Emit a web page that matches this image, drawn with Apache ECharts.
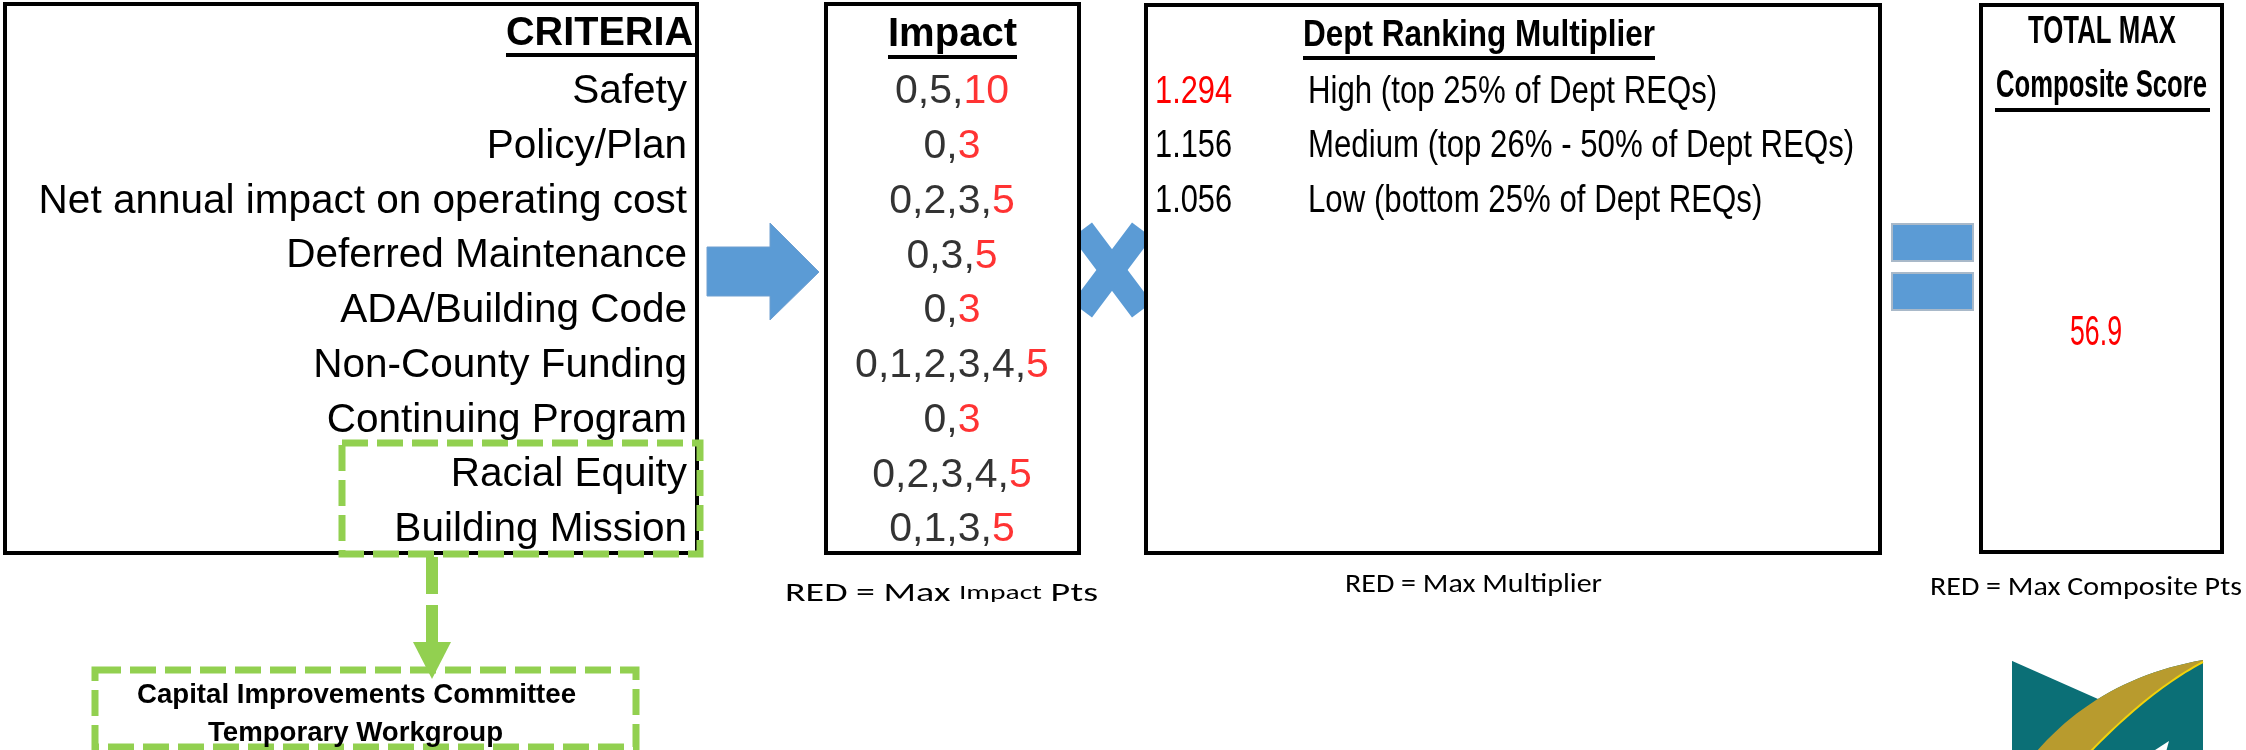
<!DOCTYPE html>
<html>
<head>
<meta charset="utf-8">
<title>Capital Improvement Scoring</title>
<script src="https://cdn.jsdelivr.net/npm/echarts@6/dist/echarts.min.js"></script>
<style>
  html, body { margin: 0; padding: 0; background: #fff; }
  #main { width: 2246px; height: 750px; }
</style>
</head>
<body>
<div id="main"></div>
<script>
// ========== Data ==========
const criteria = ['Safety', 'Policy/Plan', 'Net annual impact on operating cost', 'Deferred Maintenance',
    'ADA/Building Code', 'Non-County Funding', 'Continuing Program', 'Racial Equity', 'Building Mission'];
// possible impact points per criterion (the max one is shown in red)
const impactPoints = [[0, 5, 10], [0, 3], [0, 2, 3, 5], [0, 3, 5], [0, 3], [0, 1, 2, 3, 4, 5], [0, 3], [0, 2, 3, 4, 5], [0, 1, 3, 5]];
const multipliers = [1.294, 1.156, 1.056];
const rankLevels = ['High (top 25% of Dept REQs)', 'Medium (top 26% - 50% of Dept REQs)', 'Low (bottom 25% of Dept REQs)'];
const totalMaxScore = 56.9;
const workgroupLines = ['Capital Improvements Committee', 'Temporary Workgroup'];

// ========== Layout helpers ==========
const ARIAL = "'Liberation Sans', Arial, sans-serif";
const CALIBRI = "Carlito, Calibri, Lato, sans-serif";
const RED = '#ff0000';
const BLUE = '#5b9bd5';
const GREEN = '#92d050';

const measureCtx = document.createElement('canvas').getContext('2d');
// squeeze a text horizontally so it covers the width seen in the sheet
function fitScale(str, font, width) {
    measureCtx.font = font;
    return width / measureCtx.measureText(str).width;
}
function textEl(str, x, y, size, width, opts) {
    opts = opts || {};
    const weight = opts.bold ? 'bold' : 'normal';
    const family = opts.family || ARIAL;
    let sx = opts.scale || 1;
    if (width) sx = fitScale(str, weight + ' ' + size + 'px ' + family, width);
    return {
        type: 'text', x: x, y: y, scaleX: sx, originX: 0, originY: 0, silent: true,
        style: {
            text: str, x: 0, y: 0, fontSize: size, fontWeight: weight, fontFamily: family,
            fill: opts.color || '#000', textAlign: opts.align || 'left', textVerticalAlign: 'middle'
        }
    };
}
function box(x, y, w, h) {
    return { type: 'rect', shape: { x: x, y: y, width: w, height: h }, silent: true,
        style: { fill: '#fff', stroke: '#000', lineWidth: 4 } };
}
function line(x1, y1, x2, y2, color, width, dash) {
    return { type: 'line', shape: { x1: x1, y1: y1, x2: x2, y2: y2 }, silent: true,
        style: { stroke: color, lineWidth: width, lineDash: dash || null } };
}
function quad(p0, c, p2, n) {
    const pts = [];
    for (let i = 0; i <= n; i++) {
        const t = i / n, a = (1 - t) * (1 - t), b = 2 * t * (1 - t), d = t * t;
        pts.push([a * p0[0] + b * c[0] + d * p2[0], a * p0[1] + b * c[1] + d * p2[1]]);
    }
    return pts;
}

// ========== Decorations ==========
const graphics = [];
// multiply sign sits behind the boxes so its arms are cut by their edges
graphics.push(line(1082, 230, 1142, 310, BLUE, 25));
graphics.push(line(1142, 230, 1082, 310, BLUE, 25));

graphics.push(box(5, 4, 692, 549));
graphics.push(box(826, 4, 253, 549));
graphics.push(box(1146, 5, 734, 548));
graphics.push(box(1981, 5, 241, 547));

// column headers
graphics.push(textEl('CRITERIA', 506, 34, 40, 187, { bold: true }));
graphics.push(line(506, 55, 697, 55, '#000', 4));
graphics.push(textEl('Impact', 888, 35, 40, 129, { bold: true }));
graphics.push(line(888, 57, 1017, 57, '#000', 4));
graphics.push(textEl('Dept Ranking Multiplier', 1303, 36, 37, 352, { bold: true }));
graphics.push(line(1303, 58, 1655, 58, '#000', 4));
graphics.push(textEl('TOTAL MAX', 2028, 33, 38, 148, { bold: true }));
graphics.push(textEl('Composite Score', 1996, 86, 39, 211, { bold: true }));
graphics.push(line(1995, 110, 2210, 110, '#000', 4));
graphics.push(textEl(String(totalMaxScore), 2070, 333, 42, 52, { color: RED }));

// block arrow and equals sign
graphics.push({ type: 'polygon', silent: true,
    shape: { points: [[707, 247], [770, 247], [770, 223], [819, 272], [770, 320], [770, 296], [707, 296]] },
    style: { fill: BLUE, stroke: '#6f9fd0', lineWidth: 1 } });
graphics.push({ type: 'rect', shape: { x: 1892, y: 224, width: 81, height: 37 }, silent: true,
    style: { fill: BLUE, stroke: '#a9b9c9', lineWidth: 2 } });
graphics.push({ type: 'rect', shape: { x: 1892, y: 273, width: 81, height: 37 }, silent: true,
    style: { fill: BLUE, stroke: '#a9b9c9', lineWidth: 2 } });

// workgroup callout
graphics.push({ type: 'rect', shape: { x: 342, y: 443, width: 358, height: 111 }, silent: true,
    style: { fill: 'none', stroke: GREEN, lineWidth: 7, lineDash: [26, 9] } });
graphics.push(line(432, 557, 432, 643, GREEN, 12, [37, 11]));
graphics.push({ type: 'polygon', silent: true, shape: { points: [[413, 642], [451, 642], [432, 679]] },
    style: { fill: GREEN } });
graphics.push({ type: 'rect', shape: { x: 95, y: 670, width: 541, height: 77 }, silent: true,
    style: { fill: 'none', stroke: GREEN, lineWidth: 7, lineDash: [26, 9] } });
graphics.push(textEl(workgroupLines[0], 137, 695, 28, 439, { bold: true }));
graphics.push(textEl(workgroupLines[1], 208, 733, 28, 295, { bold: true }));

// notes under the boxes
const noteRich = { a: { fontSize: 27, fontFamily: CALIBRI, fill: '#000' }, s: { fontSize: 21, fontFamily: CALIBRI, fill: '#000' } };
function note(parts, x, y, width) {
    measureCtx.font = '27px ' + CALIBRI;
    let w = measureCtx.measureText(parts[0] + (parts[2] || '')).width;
    measureCtx.font = '21px ' + CALIBRI;
    w += parts[1] ? measureCtx.measureText(parts[1]).width : 0;
    const text = '{a|' + parts[0] + '}' + (parts[1] ? '{s|' + parts[1] + '}{a|' + parts[2] + '}' : '');
    return { type: 'text', x: x, y: y, scaleX: width / w, silent: true,
        style: { text: text, x: 0, y: 0, rich: noteRich, textVerticalAlign: 'middle', textAlign: 'left' } };
}
graphics.push(note(['RED = Max ', 'Impact', ' Pts'], 785, 594, 313));
graphics.push(note(['RED = Max Multiplier'], 1345, 585, 257));
graphics.push(note(['RED = Max Composite Pts'], 1930, 588, 312));

// county logo, bottom right
const upper = quad([2036, 752], [2100, 678], [2203, 660], 24);
const lower = quad([2090, 752], [2150, 690], [2203, 662], 24);
graphics.push({ type: 'rect', shape: { x: 2012, y: 660, width: 191, height: 92 }, silent: true, style: { fill: '#0b6f76' } });
graphics.push({ type: 'polygon', silent: true,
    shape: { points: [[2010, 655], [2010, 660], [2098, 699]].concat(upper.filter(p => p[0] > 2098)).concat([[2206, 655]]) },
    style: { fill: '#fff' } });
graphics.push({ type: 'polygon', silent: true, shape: { points: upper.concat(lower.slice().reverse()) },
    style: { fill: '#b89b2e' } });
graphics.push({ type: 'polyline', silent: true, shape: { points: lower }, style: { stroke: '#f2d20a', lineWidth: 2, fill: null } });
graphics.push({ type: 'polygon', silent: true, shape: { points: [[2152, 752], [2169, 741], [2166, 752]] }, style: { fill: '#fff' } });

// ========== Chart ==========
const maxMult = Math.max.apply(null, multipliers);
const rowGrid = { top: 64.6, height: 492.75 };

const option = {
    animation: false,
    grid: [
        { left: 689, width: 526, top: rowGrid.top, height: rowGrid.height },
        { left: 1155, width: 153, top: rowGrid.top, height: rowGrid.height }
    ],
    xAxis: [
        { gridIndex: 0, type: 'value', min: 0, max: 1, show: false },
        { gridIndex: 1, type: 'value', min: 0, max: 1, show: false }
    ],
    yAxis: [
        {
            gridIndex: 0, type: 'category', inverse: true, data: criteria,
            axisLine: { show: false }, axisTick: { show: false }, splitLine: { show: false },
            axisLabel: { interval: 0, margin: 2, fontSize: 40.5, fontFamily: ARIAL, color: '#000' }
        },
        { gridIndex: 1, type: 'category', inverse: true, data: criteria, show: false }
    ],
    series: [
        {
            name: 'Impact', type: 'scatter', xAxisIndex: 0, yAxisIndex: 0, symbolSize: 1, silent: true,
            itemStyle: { color: 'rgba(0,0,0,0)' },
            data: impactPoints.map((pts, i) => [0.5, i]),
            label: {
                show: true, position: 'inside',
                formatter: p => {
                    const pts = impactPoints[p.dataIndex];
                    const top = Math.max.apply(null, pts);
                    const rest = pts.filter(v => v !== top);
                    return '{k|' + rest.join(',') + ',}{r|' + top + '}';
                },
                rich: {
                    k: { fontSize: 41, fontFamily: ARIAL, color: '#000' },
                    r: { fontSize: 41, fontFamily: ARIAL, color: RED }
                }
            }
        },
        // anchors for the multiplier rows; their condensed text is drawn below
        {
            name: 'Multiplier', type: 'scatter', xAxisIndex: 1, yAxisIndex: 1, symbolSize: 1, silent: true,
            itemStyle: { color: 'rgba(0,0,0,0)' },
            data: multipliers.map((m, i) => [0, i])
        },
        {
            name: 'Rank level', type: 'scatter', xAxisIndex: 1, yAxisIndex: 1, symbolSize: 1, silent: true,
            itemStyle: { color: 'rgba(0,0,0,0)' },
            data: rankLevels.map((t, i) => [1, i])
        }
    ],
    graphic: { elements: graphics }
};

const myChart = echarts.init(document.getElementById('main'));
myChart.setOption(option);

// multiplier table uses a narrow face: place it through the grid's own scale, then squeeze
const deptText = [];
multipliers.forEach((m, i) => {
    const p = myChart.convertToPixel({ xAxisIndex: 1, yAxisIndex: 1 }, [0, i]);
    deptText.push(textEl(m.toFixed(3), p[0], p[1], 39, null, { scale: 0.79, color: m === maxMult ? RED : '#000' }));
});
rankLevels.forEach((t, i) => {
    const p = myChart.convertToPixel({ xAxisIndex: 1, yAxisIndex: 1 }, [1, i]);
    deptText.push(textEl(t, p[0], p[1], 39, null, { scale: 0.8 }));
});
myChart.setOption({ graphic: { elements: graphics.concat(deptText) } });
</script>
</body>
</html>
